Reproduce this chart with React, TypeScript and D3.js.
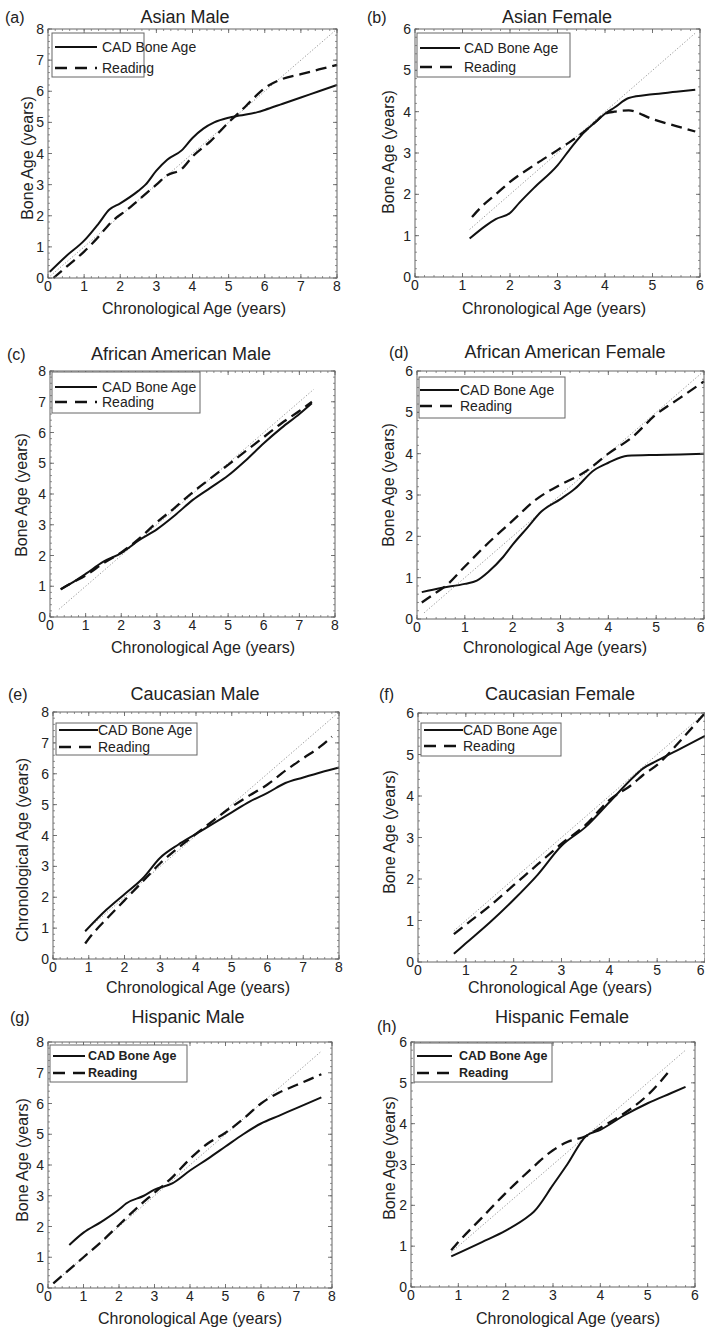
import React from 'react';
import * as d3 from 'd3';

type Pt = [number, number];

// ---------- DATA ----------
const titles = ['Asian Male', 'Asian Female', 'African American Male', 'African American Female', 'Caucasian Male', 'Caucasian Female', 'Hispanic Male', 'Hispanic Female'];
const letters = ['(a)', '(b)', '(c)', '(d)', '(e)', '(f)', '(g)', '(h)'];
const yLabels = ['Bone Age (years)', 'Bone Age (years)', 'Bone Age (years)', 'Bone Age (years)', 'Chronological Age (years)', 'Bone Age (years)', 'Bone Age (years)', 'Bone Age (years)'];
const xLabel = 'Chronological Age (years)';
const axisMax = [8, 6, 8, 6, 8, 6, 8, 6];
const legendLabels = ['CAD Bone Age', 'Reading'];

const asianMaleCAD: Pt[] = [[0.05, 0.2], [0.5, 0.7], [1.0, 1.2], [1.4, 1.75], [1.7, 2.2], [2.0, 2.4], [2.5, 2.8], [2.7, 3.0], [3.0, 3.45], [3.3, 3.8], [3.7, 4.1], [4.0, 4.5], [4.3, 4.8], [4.6, 5.0], [5.0, 5.15], [5.3, 5.22], [5.8, 5.33], [6.0, 5.4], [6.5, 5.6], [7.0, 5.8], [7.5, 6.0], [8.0, 6.2]];
const asianMaleRead: Pt[] = [[0.15, 0.0], [0.5, 0.35], [1.0, 0.85], [1.3, 1.2], [1.8, 1.85], [2.2, 2.2], [2.5, 2.5], [3.0, 3.0], [3.3, 3.3], [3.7, 3.5], [4.0, 3.9], [4.5, 4.4], [5.0, 5.0], [5.5, 5.55], [5.8, 5.9], [6.0, 6.1], [6.5, 6.4], [7.0, 6.55], [7.5, 6.7], [8.0, 6.85]];

const asianFemaleCAD: Pt[] = [[1.15, 0.93], [1.5, 1.25], [1.7, 1.4], [2.0, 1.55], [2.2, 1.8], [2.5, 2.15], [3.0, 2.7], [3.3, 3.15], [3.6, 3.55], [3.8, 3.75], [4.0, 3.95], [4.2, 4.1], [4.5, 4.33], [5.0, 4.42], [5.5, 4.48], [5.9, 4.53]];
const asianFemaleRead: Pt[] = [[1.2, 1.45], [1.4, 1.7], [1.7, 2.0], [2.0, 2.3], [2.5, 2.7], [3.0, 3.07], [3.3, 3.3], [3.6, 3.55], [3.8, 3.75], [4.0, 3.95], [4.2, 4.0], [4.5, 4.03], [5.0, 3.82], [5.5, 3.65], [5.9, 3.52]];

const afAmMaleCAD: Pt[] = [[0.3, 0.9], [0.6, 1.1], [1.0, 1.4], [1.5, 1.8], [2.0, 2.08], [2.5, 2.5], [3.0, 2.85], [3.5, 3.3], [4.0, 3.8], [4.5, 4.2], [5.0, 4.6], [5.5, 5.1], [6.0, 5.65], [6.5, 6.15], [7.0, 6.6], [7.35, 6.95]];
const afAmMaleRead: Pt[] = [[0.3, 0.9], [0.6, 1.1], [1.0, 1.35], [1.5, 1.75], [2.0, 2.1], [2.5, 2.55], [3.0, 3.08], [3.5, 3.55], [4.0, 4.05], [4.5, 4.5], [5.0, 4.95], [5.5, 5.4], [6.0, 5.85], [6.5, 6.3], [7.0, 6.7], [7.35, 7.0]];

const afAmFemaleCAD: Pt[] = [[0.1, 0.65], [0.5, 0.75], [1.0, 0.85], [1.25, 0.93], [1.5, 1.15], [1.8, 1.5], [2.0, 1.8], [2.3, 2.2], [2.6, 2.6], [3.0, 2.9], [3.3, 3.15], [3.7, 3.6], [4.0, 3.78], [4.4, 3.95], [5.0, 3.97], [5.5, 3.98], [6.0, 4.0]];
const afAmFemaleRead: Pt[] = [[0.1, 0.4], [0.35, 0.6], [0.6, 0.8], [1.0, 1.27], [1.5, 1.85], [2.0, 2.38], [2.5, 2.9], [3.0, 3.25], [3.5, 3.55], [4.0, 4.0], [4.5, 4.4], [5.0, 4.95], [5.5, 5.35], [6.0, 5.75]];

const caucMaleCAD: Pt[] = [[0.9, 0.9], [1.5, 1.6], [2.0, 2.1], [2.5, 2.6], [3.0, 3.28], [3.5, 3.7], [4.0, 4.05], [4.5, 4.4], [5.0, 4.75], [5.5, 5.1], [6.0, 5.38], [6.5, 5.7], [7.0, 5.88], [7.5, 6.05], [8.0, 6.2]];
const caucMaleRead: Pt[] = [[0.9, 0.5], [1.1, 0.8], [1.5, 1.3], [2.0, 1.9], [2.5, 2.5], [3.0, 3.1], [3.5, 3.6], [4.0, 4.05], [4.5, 4.5], [5.0, 4.93], [5.5, 5.3], [6.0, 5.65], [6.5, 6.1], [7.0, 6.5], [7.5, 6.9], [7.8, 7.2]];

const caucFemaleCAD: Pt[] = [[0.75, 0.2], [1.0, 0.45], [1.5, 0.95], [2.0, 1.5], [2.5, 2.1], [3.0, 2.8], [3.5, 3.25], [4.0, 3.85], [4.5, 4.45], [4.7, 4.66], [5.0, 4.85], [5.5, 5.15], [6.0, 5.45]];
const caucFemaleRead: Pt[] = [[0.75, 0.67], [1.0, 0.9], [1.5, 1.35], [2.0, 1.85], [2.5, 2.35], [3.0, 2.85], [3.5, 3.3], [4.0, 3.9], [4.5, 4.3], [4.7, 4.5], [5.0, 4.75], [5.5, 5.35], [6.0, 6.0]];

const hispMaleCAD: Pt[] = [[0.6, 1.4], [1.0, 1.8], [1.5, 2.15], [2.0, 2.55], [2.2, 2.75], [2.7, 3.0], [3.0, 3.2], [3.5, 3.4], [4.0, 3.82], [4.5, 4.2], [5.0, 4.6], [5.5, 5.0], [6.0, 5.35], [6.5, 5.6], [7.0, 5.85], [7.7, 6.2]];
const hispMaleRead: Pt[] = [[0.15, 0.15], [0.55, 0.55], [1.0, 1.0], [1.5, 1.5], [2.0, 2.05], [2.5, 2.6], [3.0, 3.1], [3.5, 3.6], [4.0, 4.2], [4.5, 4.7], [5.0, 5.05], [5.5, 5.5], [6.0, 6.0], [6.5, 6.35], [7.0, 6.6], [7.7, 6.95]];

const hispFemaleCAD: Pt[] = [[0.85, 0.75], [1.5, 1.1], [2.0, 1.38], [2.5, 1.75], [2.6, 1.85], [3.0, 2.5], [3.3, 3.0], [3.7, 3.7], [4.0, 3.85], [4.5, 4.2], [5.0, 4.5], [5.5, 4.75], [5.8, 4.9]];
const hispFemaleRead: Pt[] = [[0.85, 0.9], [1.0, 1.1], [1.5, 1.7], [2.0, 2.3], [2.5, 2.85], [3.0, 3.35], [3.3, 3.55], [3.7, 3.7], [4.0, 3.9], [4.5, 4.25], [5.0, 4.7], [5.5, 5.35]];

const cadSeries: Pt[][] = [asianMaleCAD, asianFemaleCAD, afAmMaleCAD, afAmFemaleCAD, caucMaleCAD, caucFemaleCAD, hispMaleCAD, hispFemaleCAD];
const readSeries: Pt[][] = [asianMaleRead, asianFemaleRead, afAmMaleRead, afAmFemaleRead, caucMaleRead, caucFemaleRead, hispMaleRead, hispFemaleRead];
const identityRanges: [number, number][] = [[0, 8], [1.15, 5.9], [0.25, 7.4], [0.15, 6], [0.9, 8], [0.75, 6], [0.15, 7.7], [0.85, 5.8]];

// ---------- LAYOUT ----------
interface Layout {
  box: [number, number, number, number]; // left, top, right, bottom
  titleX: number; titleY: number;
  letterX: number; letterY: number;
  yLabX: number; yLabY: number;
  xLabX: number; xLabY: number;
  leg: { x: number; y: number; w: number; h: number; l0: number; l1: number; tx: number; r1: number; r2: number; fs: number; bold: boolean };
}

const layouts: Layout[] = [
  { box: [48, 29, 337, 278], titleX: 185, titleY: 23, letterX: 5, letterY: 23, yLabX: 33, yLabY: 158, xLabX: 194, xLabY: 314,
    leg: { x: 52, y: 33, w: 92, h: 44, l0: 3, l1: 45, tx: 50, r1: 14, r2: 35, fs: 14, bold: false } },
  { box: [415, 29, 700, 277], titleX: 557, titleY: 23, letterX: 367, letterY: 23, yLabX: 394, yLabY: 152, xLabX: 554, xLabY: 314,
    leg: { x: 417, y: 33, w: 153, h: 44, l0: 3, l1: 43, tx: 47, r1: 15, r2: 34, fs: 14, bold: false } },
  { box: [50, 371, 335, 617], titleX: 181, titleY: 360, letterX: 7, letterY: 360, yLabX: 27, yLabY: 495, xLabX: 203, xLabY: 653,
    leg: { x: 52, y: 372, w: 148, h: 41, l0: 3, l1: 45, tx: 50, r1: 15, r2: 30, fs: 14, bold: false } },
  { box: [417, 371, 704, 619], titleX: 565, titleY: 358, letterX: 389, letterY: 358, yLabX: 394, yLabY: 485, xLabX: 555, xLabY: 653,
    leg: { x: 419, y: 377, w: 146, h: 41, l0: 1, l1: 40, tx: 41, r1: 13, r2: 29, fs: 14, bold: false } },
  { box: [53, 712, 339, 959], titleX: 195, titleY: 700, letterX: 8, letterY: 700, yLabX: 28, yLabY: 850, xLabX: 198, xLabY: 993,
    leg: { x: 56, y: 723, w: 141, h: 32, l0: 3, l1: 42, tx: 42, r1: 7, r2: 24, fs: 14, bold: false } },
  { box: [418, 713, 705, 962], titleX: 560, titleY: 700, letterX: 379, letterY: 700, yLabX: 395, yLabY: 832, xLabX: 560, xLabY: 993,
    leg: { x: 421, y: 723, w: 140, h: 33, l0: 3, l1: 42, tx: 42, r1: 7, r2: 23, fs: 14, bold: false } },
  { box: [48, 1042, 332, 1288], titleX: 188, titleY: 1023, letterX: 10, letterY: 1023, yLabX: 28, yLabY: 1160, xLabX: 190, xLabY: 1324,
    leg: { x: 50, y: 1045, w: 137, h: 37, l0: 3, l1: 35, tx: 38, r1: 11, r2: 28, fs: 12.5, bold: true } },
  { box: [411, 1042, 695, 1287], titleX: 562, titleY: 1023, letterX: 377, letterY: 1032, yLabX: 395, yLabY: 1158, xLabX: 568, xLabY: 1324,
    leg: { x: 414, y: 1043, w: 138, h: 39, l0: 3, l1: 38, tx: 45, r1: 13, r2: 30, fs: 12.5, bold: true } },
];

const FONT = '"Liberation Sans", Arial, Helvetica, sans-serif';
const TEXT = '#222';
const FRAME = '#666';
const W = 705;

function Panel({ i }: { i: number }) {
  const L = layouts[i];
  const [x0, y0, x1, y1] = L.box;
  const max = axisMax[i];
  const xs = d3.scaleLinear().domain([0, max]).range([x0, x1]);
  const ys = d3.scaleLinear().domain([0, max]).range([y1, y0]);
  const line = d3.line<Pt>().x(d => xs(d[0])).y(d => ys(d[1])).curve(d3.curveMonotoneX);
  const major = xs.ticks(max);
  const minor = d3.range(0, max + 1e-9, 0.2);
  const id = identityRanges[i];
  const lg = L.leg;
  return (
    <g>
      <line x1={xs(id[0])} y1={ys(id[0])} x2={xs(id[1])} y2={ys(id[1])} stroke="#888" strokeWidth={0.9} strokeDasharray="1.2,2" />
      <path d={line(readSeries[i]) || ''} fill="none" stroke="#111" strokeWidth={2.3} strokeDasharray="11,6" />
      <path d={line(cadSeries[i]) || ''} fill="none" stroke="#111" strokeWidth={2} />
      <rect x={x0} y={y0} width={x1 - x0} height={y1 - y0} fill="none" stroke={FRAME} strokeWidth={1} />
      {minor.map((v, k) => (
        <g key={'m' + k} stroke={FRAME} strokeWidth={0.7}>
          <line x1={xs(v)} x2={xs(v)} y1={y1} y2={y1 - 2} />
          <line x1={xs(v)} x2={xs(v)} y1={y0} y2={y0 + 2} />
          <line x1={x0} x2={x0 + 2} y1={ys(v)} y2={ys(v)} />
          <line x1={x1} x2={x1 - 2} y1={ys(v)} y2={ys(v)} />
        </g>
      ))}
      {major.map((v, k) => (
        <g key={'M' + k} stroke={FRAME} strokeWidth={0.9}>
          <line x1={xs(v)} x2={xs(v)} y1={y1} y2={y1 - 4} />
          <line x1={xs(v)} x2={xs(v)} y1={y0} y2={y0 + 4} />
          <line x1={x0} x2={x0 + 4} y1={ys(v)} y2={ys(v)} />
          <line x1={x1} x2={x1 - 4} y1={ys(v)} y2={ys(v)} />
        </g>
      ))}
      {major.map((v, k) => {
        const px = xs(v);
        const atEdge = px + 5 > W;
        return (
          <text key={'xt' + k} x={atEdge ? W - 0.5 : px} y={y1 + 13} textAnchor={atEdge ? 'end' : 'middle'} fontSize={14} fill={TEXT} fontFamily={FONT}>{v}</text>
        );
      })}
      {major.map((v, k) => (
        <text key={'yt' + k} x={x0 - 4} y={ys(v)} dy="0.36em" textAnchor="end" fontSize={14} fill={TEXT} fontFamily={FONT}>{v}</text>
      ))}
      <text x={L.titleX} y={L.titleY} textAnchor="middle" fontSize={18} fill={TEXT} fontFamily={FONT}>{titles[i]}</text>
      <text x={L.letterX} y={L.letterY} fontSize={16} fill={TEXT} fontFamily={FONT}>{letters[i]}</text>
      <text x={L.xLabX} y={L.xLabY} textAnchor="middle" fontSize={16} fill={TEXT} fontFamily={FONT}>{xLabel}</text>
      <text transform={`translate(${L.yLabX},${L.yLabY}) rotate(-90)`} textAnchor="middle" fontSize={16} fill={TEXT} fontFamily={FONT}>{yLabels[i]}</text>
      <g transform={`translate(${lg.x},${lg.y})`}>
        <rect x={0} y={0} width={lg.w} height={lg.h} fill="#fff" stroke={FRAME} strokeWidth={1} />
        <line x1={lg.l0} x2={lg.l1} y1={lg.r1} y2={lg.r1} stroke="#111" strokeWidth={2} />
        <line x1={lg.l0} x2={lg.l1} y1={lg.r2} y2={lg.r2} stroke="#111" strokeWidth={2.3} strokeDasharray="12,8" />
        <text x={lg.tx} y={lg.r1} dy="0.35em" fontSize={lg.fs} fontWeight={lg.bold ? 'bold' : 'normal'} fill={TEXT} fontFamily={FONT}>{legendLabels[0]}</text>
        <text x={lg.tx} y={lg.r2} dy="0.35em" fontSize={lg.fs} fontWeight={lg.bold ? 'bold' : 'normal'} fill={TEXT} fontFamily={FONT}>{legendLabels[1]}</text>
      </g>
    </g>
  );
}

export default function App() {
  return (
    <svg width={705} height={1332} style={{ position: 'absolute', left: 0, top: 0, background: '#fff' }}>
      <rect x={0} y={0} width={705} height={1332} fill="#fff" />
      {titles.map((_, i) => <Panel key={i} i={i} />)}
    </svg>
  );
}
